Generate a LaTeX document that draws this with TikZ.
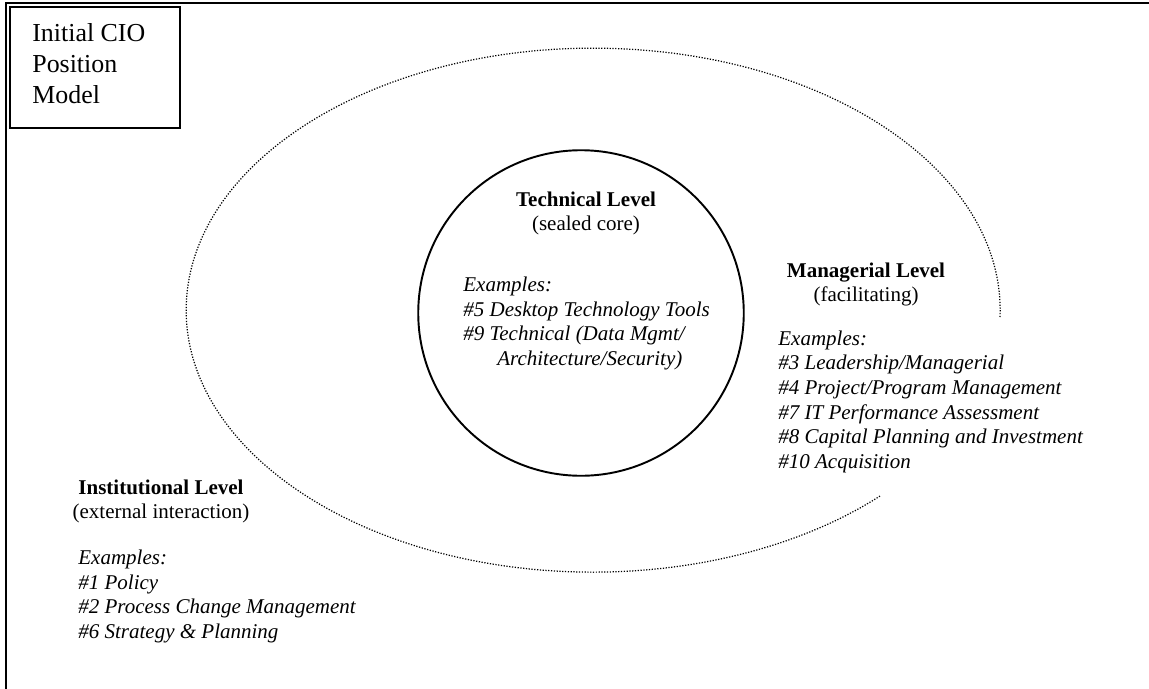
\documentclass[tikz,border=0pt]{standalone}
\usepackage{fontspec}
\setmainfont{Liberation Serif}

\tikzset{
	frame/.style={line width=1.2pt},
	orbit/.style={line width=0.7pt, dash pattern=on 0.7pt off 0.9pt},
	levelhead/.style={align=center, anchor=base, inner sep=0pt,
		font=\fontsize{12pt}{13.4pt}\selectfont},
	examplelist/.style={align=left, anchor=base west, inner sep=0pt,
		font=\fontsize{12pt}{14pt}\selectfont\itshape},
}

\begin{document}
\begin{tikzpicture}[x=0.5714pt, y=-0.5714pt]

\useasboundingbox (0,0) rectangle (1149,689);

% page frame and title box
\draw[frame] (1149,3) -- (6,3) -- (6,689);
\draw[frame] (10,7) rectangle (180,128);

% multi-line nodes sit on the baseline of their last line
\node[
	align=left,
	anchor=base west,
	inner sep=0pt,
	font=\fontsize{14.8pt}{17.5pt}\selectfont
] (title) at (32,103) {Initial CIO\\Position\\Model};

% ---

\draw[orbit] (1000,317)
	arc[start angle=1.5, end angle=-315, x radius=407, y radius=262];

\node[
	draw,
	circle,
	line width=1.1pt,
	inner sep=0pt,
	minimum size=186pt
] (core) at (581,313) {};

% ---

\node[levelhead] (techHead) at (586,230)
	{\textbf{Technical Level}\\(sealed core)};

\node[examplelist] (techEx) at (463,365)
	{Examples:\\\#5 Desktop Technology Tools\\\#9 Technical (Data Mgmt/\\\hspace*{19.4pt}Architecture/Security)};

\node[levelhead] (manHead) at (866,301)
	{\textbf{Managerial Level}\\(facilitating)};

\node[examplelist] (manEx) at (778,468)
	{Examples:\\\#3 Leadership/Managerial\\\#4 Project/Program Management\\\#7 IT Performance Assessment\\\#8 Capital Planning and Investment\\\#10 Acquisition};

\node[levelhead] (instHead) at (161,518)
	{\textbf{Institutional Level}\\(external interaction)};

\node[examplelist] (instEx) at (78,638)
	{Examples:\\\#1 Policy\\\#2 Process Change Management\\\#6 Strategy \& Planning};

\end{tikzpicture}
\end{document}
